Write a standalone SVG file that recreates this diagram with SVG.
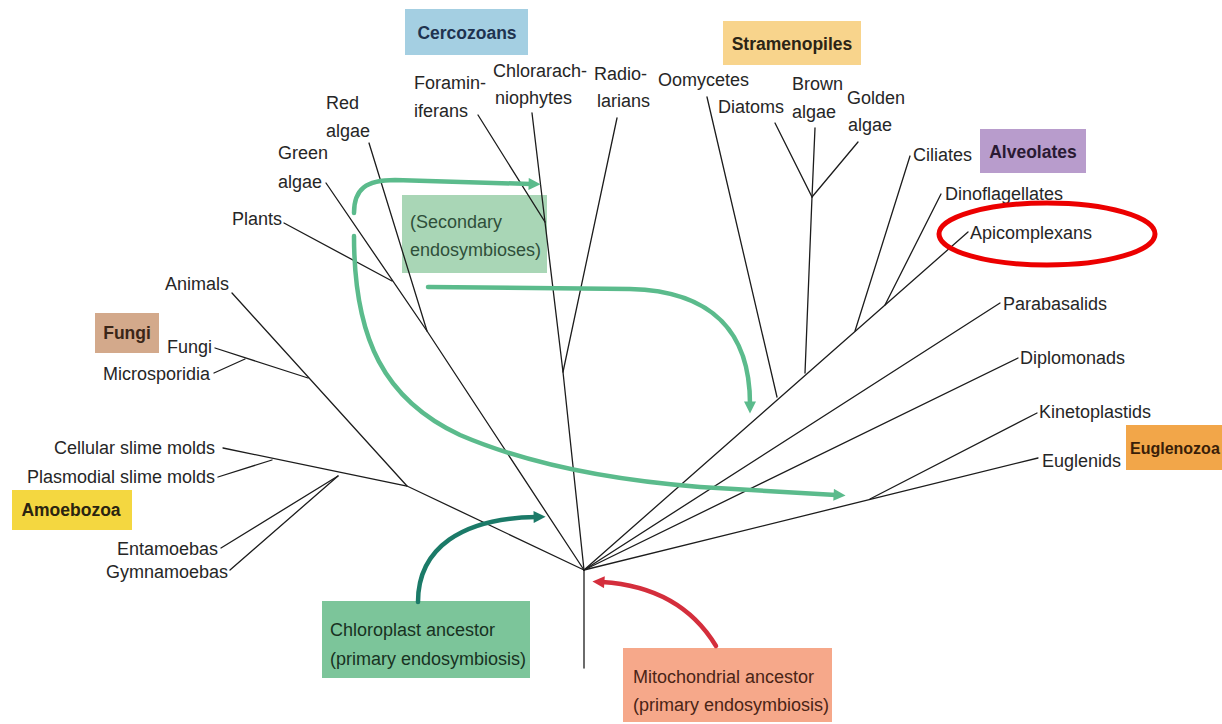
<svg xmlns="http://www.w3.org/2000/svg" width="1222" height="724" viewBox="0 0 1222 724">
<defs>
<style>
.lbl{font-family:"Liberation Sans",Arial,sans-serif;font-size:18px;fill:#262626}
.grp{font-family:"Liberation Sans",Arial,sans-serif;font-size:17.5px;font-weight:bold;text-anchor:middle}
.br{fill:none;stroke:#1c1c1c;stroke-width:1.3;stroke-linecap:round}
.sec{fill:none;stroke:#5bbb8c;stroke-width:4.5;stroke-linecap:round}
</style>
<marker id="ag" viewBox="0 0 10 10" refX="2" refY="5" markerUnits="userSpaceOnUse" markerWidth="14" markerHeight="12" orient="auto"><path d="M0,0 L10,5 L0,10 z" fill="#5bbb8c"/></marker>
<marker id="at" viewBox="0 0 10 10" refX="2" refY="5" markerUnits="userSpaceOnUse" markerWidth="14" markerHeight="12" orient="auto"><path d="M0,0 L10,5 L0,10 z" fill="#1b7a68"/></marker>
<marker id="ar" viewBox="0 0 10 10" refX="2" refY="5" markerUnits="userSpaceOnUse" markerWidth="14" markerHeight="12" orient="auto"><path d="M0,0 L10,5 L0,10 z" fill="#d42e3c"/></marker>
</defs>
<rect width="1222" height="724" fill="#ffffff"/>

<!-- group boxes -->
<g id="cercozoans"><rect x="405" y="9" width="123" height="46" fill="#a4cfe2"/><text class="grp" x="467" y="39" fill="#1f3350">Cercozoans</text></g>
<g id="stramenopiles"><rect x="723" y="21" width="138" height="44" fill="#f8d48c"/><text class="grp" x="792" y="50" fill="#2b2416">Stramenopiles</text></g>
<g id="alveolates"><rect x="980" y="129" width="106" height="44" fill="#b89ccc"/><text class="grp" x="1033" y="158" fill="#2a1a33">Alveolates</text></g>
<g id="fungi-group"><rect x="95" y="313" width="64" height="40" fill="#d3a98b"/><text class="grp" x="127" y="339" fill="#3a2618">Fungi</text></g>
<g id="amoebozoa"><rect x="12" y="490" width="120" height="40" fill="#f4d740"/><text class="grp" x="71" y="516" fill="#2a2410">Amoebozoa</text></g>
<g id="euglenozoa"><rect x="1126" y="425" width="100" height="45" fill="#f2a649"/><text class="grp" x="1130" y="454" style="text-anchor:start;font-size:16px" fill="#3a1e08">Euglenozoa</text></g>
<g id="secondary"><rect x="402" y="195" width="145" height="78" fill="#a9d6b6"/><text class="lbl" x="410" y="228" style="fill:#2f4f3a">(Secondary</text><text class="lbl" x="410" y="256" style="fill:#2f4f3a">endosymbioses)</text></g>
<g id="chloroplast"><rect x="322" y="601" width="208" height="77" fill="#7cc59a"/><text class="lbl" x="330" y="636" style="fill:#183222">Chloroplast ancestor</text><text class="lbl" x="330" y="665" style="fill:#183222">(primary endosymbiosis)</text></g>
<g id="mitochondrial"><rect x="623" y="648" width="209" height="74" fill="#f6a88a"/><text class="lbl" x="633" y="683" style="fill:#4a2416">Mitochondrial ancestor</text><text class="lbl" x="633" y="711" style="fill:#4a2416">(primary endosymbiosis)</text></g>

<!-- tree branches -->
<g id="connectors">
<path class="br" d="M584,570 L584,668"/>
<!-- unikonts -->
<path class="br" d="M584,570 L407,486 L223,448"/>
<path class="br" d="M218,477 L272,460"/>
<path class="br" d="M221,548 L338,476"/>
<path class="br" d="M230,570 L338,476"/>
<path class="br" d="M407,486 L232,293"/>
<path class="br" d="M215,348 L308,378"/>
<path class="br" d="M214,373 L245,359"/>
<!-- archaeplastids -->
<path class="br" d="M584,570 L427,331 L326,183"/>
<path class="br" d="M427,331 L369,143"/>
<path class="br" d="M284,223 L392,281"/>
<!-- rhizaria -->
<path class="br" d="M584,570 L563,372 L545,222 L478,115"/>
<path class="br" d="M545,222 L532,113"/>
<path class="br" d="M563,372 L617,118"/>
<!-- chromalveolates -->
<path class="br" d="M584,570 L968,232"/>
<path class="br" d="M777,397 L707,97"/>
<path class="br" d="M805,373 L812,197 L775,123"/>
<path class="br" d="M812,197 L815,128"/>
<path class="br" d="M812,197 L858,142"/>
<path class="br" d="M855,331 L910,156"/>
<path class="br" d="M885,305 L941,194"/>
<!-- excavates -->
<path class="br" d="M584,570 L1000,303"/>
<path class="br" d="M584,570 L1018,358"/>
<path class="br" d="M584,570 L1038,458"/>
<path class="br" d="M870,499 L1037,413"/>
<!-- endosymbiosis arrows -->
<path class="sec" d="M354,213 C354,189 366,180 395,180 L531,184" marker-end="url(#ag)"/>
<path class="sec" d="M428,287 L630,289 C715,291 750,335 750,404" marker-end="url(#ag)"/>
<path class="sec" d="M354,236 C354,340 385,400 460,435 C530,465 610,480 700,487 L836,495" marker-end="url(#ag)"/>
<path d="M418,602 C418,548 462,518 536,517" fill="none" stroke="#1b7a68" stroke-width="4.5" stroke-linecap="round" marker-end="url(#at)"/>
<path d="M716,646 C690,603 650,585 602,582" fill="none" stroke="#d42e3c" stroke-width="4.5" stroke-linecap="round" marker-end="url(#ar)"/>
</g>

<!-- taxa labels -->
<g id="red-algae"><text class="lbl" x="326" y="109">Red</text><text class="lbl" x="326" y="137">algae</text></g>
<g id="green-algae"><text class="lbl" x="278" y="159">Green</text><text class="lbl" x="278" y="188">algae</text></g>
<g id="plants"><text class="lbl" x="232" y="225">Plants</text></g>
<g id="animals"><text class="lbl" x="165" y="290">Animals</text></g>
<g id="fungi"><text class="lbl" x="212" y="353" text-anchor="end">Fungi</text></g>
<g id="microsporidia"><text class="lbl" x="210" y="380" text-anchor="end">Microsporidia</text></g>
<g id="cellular"><text class="lbl" x="215" y="454" text-anchor="end">Cellular slime molds</text></g>
<g id="plasmodial"><text class="lbl" x="215" y="483" text-anchor="end">Plasmodial slime molds</text></g>
<g id="entamoebas"><text class="lbl" x="218" y="555" text-anchor="end">Entamoebas</text></g>
<g id="gymnamoebas"><text class="lbl" x="228" y="578" text-anchor="end">Gymnamoebas</text></g>
<g id="foraminiferans"><text class="lbl" x="414" y="89">Foramin-</text><text class="lbl" x="414" y="117">iferans</text></g>
<g id="chlorarachniophytes"><text class="lbl" x="493" y="77">Chlorarach-</text><text class="lbl" x="495" y="104">niophytes</text></g>
<g id="radiolarians"><text class="lbl" x="594" y="80">Radio-</text><text class="lbl" x="597" y="107">larians</text></g>
<g id="oomycetes"><text class="lbl" x="658" y="86">Oomycetes</text></g>
<g id="diatoms"><text class="lbl" x="718" y="113">Diatoms</text></g>
<g id="brown-algae"><text class="lbl" x="792" y="90">Brown</text><text class="lbl" x="792" y="118">algae</text></g>
<g id="golden-algae"><text class="lbl" x="847" y="104">Golden</text><text class="lbl" x="848" y="131">algae</text></g>
<g id="ciliates"><text class="lbl" x="913" y="161">Ciliates</text></g>
<g id="dinoflagellates"><text class="lbl" x="945" y="200">Dinoflagellates</text></g>
<g id="apicomplexans"><text class="lbl" x="970" y="239">Apicomplexans</text></g>
<g id="parabasalids"><text class="lbl" x="1003" y="310">Parabasalids</text></g>
<g id="diplomonads"><text class="lbl" x="1020" y="364">Diplomonads</text></g>
<g id="kinetoplastids"><text class="lbl" x="1039" y="418">Kinetoplastids</text></g>
<g id="euglenids"><text class="lbl" x="1042" y="467">Euglenids</text></g>

<ellipse id="highlight" cx="1047" cy="234" rx="108" ry="31" fill="none" stroke="#ec0000" stroke-width="5"/>
</svg>
